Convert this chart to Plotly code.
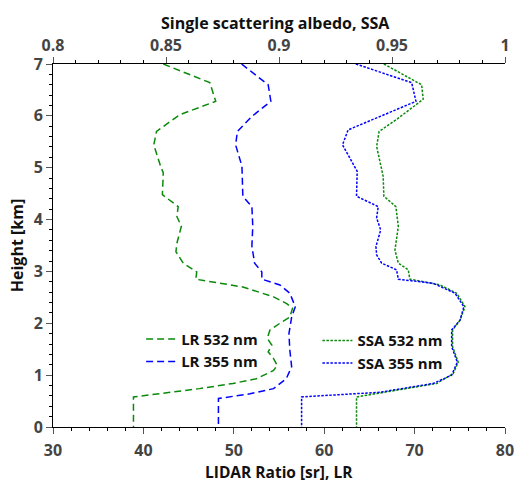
import plotly.graph_objects as go

# LIDAR ratio profiles (bottom axis)
h_lr532 = [7.0, 6.64, 6.28, 6.02, 5.70, 5.44, 5.03, 4.90, 4.48, 4.25, 4.06, 3.87, 3.54, 3.38, 3.16, 2.99, 2.85,
           2.70, 2.51, 2.38, 2.29, 2.12, 2.00, 1.87, 1.71, 1.58, 1.45, 1.32, 1.19, 1.09, 0.93, 0.84, 0.74, 0.58, 0.0]
lr532 = [42.2, 47.35, 48.0, 44.0, 41.45, 41.15, 41.9, 42.2, 42.1, 43.85, 43.7, 44.2, 43.7, 43.6, 44.4, 45.9, 45.8,
         51.0, 54.4, 55.85, 56.5, 56.2, 55.1, 54.0, 53.7, 54.2, 53.8, 54.4, 54.8, 54.4, 52.5, 49.9, 46.2, 38.9, 38.9]

h_lr355 = [7.0, 6.6, 6.28, 5.99, 5.70, 5.44, 5.03, 4.45, 4.25, 3.87, 3.49, 3.16, 2.99, 2.85, 2.74, 2.58, 2.32,
           2.12, 1.80, 1.48, 1.16, 0.93, 0.74, 0.64, 0.55, 0.0]
lr355 = [50.86, 53.8, 54.1, 52.0, 50.4, 50.2, 50.9, 51.0, 52.0, 52.1, 52.0, 52.3, 53.1, 53.1, 55.1, 56.2, 56.8,
         56.4, 56.1, 56.2, 56.4, 55.8, 54.4, 51.8, 48.3, 48.3]

# Single scattering albedo profiles (top axis)
h_ssa532 = [7.0, 6.6, 6.32, 5.93, 5.70, 5.41, 4.83, 4.45, 4.25, 3.87, 3.41, 3.16, 3.03, 2.85, 2.74, 2.58, 2.32,
            2.06, 1.87, 1.55, 1.25, 1.03, 0.84, 0.71, 0.58, 0.0]
ssa532 = [0.9464, 0.9631, 0.9638, 0.9520, 0.9443, 0.9432, 0.9461, 0.9464, 0.9517, 0.9528, 0.9513, 0.9528, 0.9572,
          0.9579, 0.9712, 0.9786, 0.9823, 0.9801, 0.9768, 0.9768, 0.9793, 0.9771, 0.9698, 0.9520, 0.9343, 0.9343]

h_ssa355 = [7.0, 6.64, 6.28, 5.99, 5.73, 5.44, 5.09, 4.93, 4.45, 4.25, 4.03, 3.80, 3.48, 3.32, 3.16, 3.03, 2.85,
            2.77, 2.58, 2.32, 2.06, 1.87, 1.55, 1.25, 1.0, 0.84, 0.67, 0.58, 0.0]
ssa355 = [0.9340, 0.9587, 0.9606, 0.9447, 0.9306, 0.9281, 0.9328, 0.9346, 0.9343, 0.9439, 0.9432, 0.9450, 0.9429,
          0.9432, 0.9454, 0.9520, 0.9528, 0.9683, 0.9779, 0.9818, 0.9801, 0.9764, 0.9764, 0.9789, 0.9764, 0.9683,
          0.9447, 0.9100, 0.9100]

x_title_bottom = "LIDAR Ratio [sr], LR"
x_title_top = "Single scattering albedo, SSA"
y_title = "Height [km]"

GREEN = "#0a8a0a"
BLUE = "#0000ff"
FONT = "Open Sans"

fig = go.Figure()
fig.add_trace(go.Scatter(x=lr532, y=h_lr532, mode="lines", name="LR 532 nm",
                         line=dict(color=GREEN, width=1.5, dash="7px,4px"), legend="legend"))
fig.add_trace(go.Scatter(x=lr355, y=h_lr355, mode="lines", name="LR 355 nm",
                         line=dict(color=BLUE, width=1.5, dash="7px,4px"), legend="legend"))
fig.add_trace(go.Scatter(x=ssa532, y=h_ssa532, mode="lines", name="SSA 532 nm", xaxis="x2",
                         line=dict(color=GREEN, width=1.5, dash="2.5px,1.5px"), legend="legend2"))
fig.add_trace(go.Scatter(x=ssa355, y=h_ssa355, mode="lines", name="SSA 355 nm", xaxis="x2",
                         line=dict(color=BLUE, width=1.5, dash="2.5px,1.5px"), legend="legend2"))

tickfont = dict(family=FONT, size=16, color="#444444", weight="bold")
titlefont = dict(family=FONT, size=16, color="#111111", weight="bold")
btitlefont = dict(family=FONT, size=15.5, color="#111111", weight="bold")
legfont = dict(family=FONT, size=15, color="#111111", weight="bold")

fig.update_layout(
    width=516, height=482,
    margin=dict(l=53, r=11, t=64, b=55, autoexpand=False),
    plot_bgcolor="white", paper_bgcolor="white",
    xaxis=dict(range=[30, 80], dtick=10, showline=True, linecolor="black", linewidth=1,
               ticks="outside", ticklen=6, tickcolor="#555555", showgrid=False, zeroline=False,
               automargin=False, ticklabelstandoff=3,
               minor=dict(dtick=2, ticks="outside", ticklen=3, tickcolor="black", showgrid=False),
               tickfont=tickfont),
    xaxis2=dict(range=[0.8, 1.0], dtick=0.05, overlaying="x", side="top", anchor="y",
                showline=True, linecolor="black", linewidth=1, automargin=False,
                ticks="outside", ticklen=6, tickcolor="#555555", showgrid=False, zeroline=False,
                minor=dict(dtick=0.01, ticks="outside", ticklen=3, tickcolor="black", showgrid=False),
                tickfont=tickfont, ticklabelstandoff=0),
    yaxis=dict(range=[0, 7], dtick=1, showline=True, linecolor="black", linewidth=1,
               ticks="outside", ticklen=6, tickcolor="#555555", showgrid=False, zeroline=False,
               automargin=False,
               minor=dict(dtick=0.2, ticks="outside", ticklen=3, tickcolor="black", showgrid=False),
               tickfont=tickfont,
               title=dict(text=y_title, font=titlefont, standoff=6)),
    legend=dict(x=0.195, y=0.287, xanchor="left", yanchor="top", bgcolor="rgba(0,0,0,0)",
                font=legfont, tracegroupgap=0, itemwidth=30),
    legend2=dict(x=0.585, y=0.283, xanchor="left", yanchor="top", bgcolor="rgba(0,0,0,0)",
                 font=legfont, tracegroupgap=0, itemwidth=30),
    showlegend=True,
    annotations=[
        dict(text=x_title_bottom, xref="paper", yref="paper", x=0.5, y=-0.124,
             xanchor="center", yanchor="middle", showarrow=False, font=btitlefont),
        dict(text=x_title_top, xref="paper", yref="paper", x=0.492, y=1.112,
             xanchor="center", yanchor="middle", showarrow=False, font=titlefont),
    ],
)

fig.write_html("out.html")
